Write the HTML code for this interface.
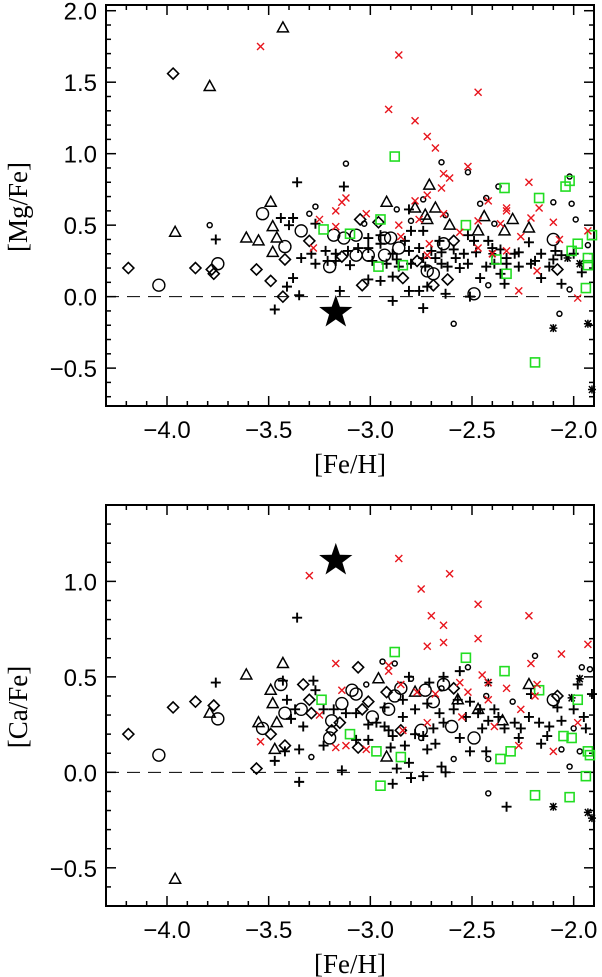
<!DOCTYPE html>
<html><head><meta charset="utf-8"><style>
html,body{margin:0;padding:0;background:#fff;}
svg{display:block;}
text{font-family:"Liberation Sans",sans-serif;fill:#000;}
.ttl{font-family:"Liberation Serif",serif;font-size:27px;}
</style></head><body>
<svg id="chart" width="602" height="977" viewBox="0 0 602 977" xmlns="http://www.w3.org/2000/svg"></svg>
<script>
// ---- shared x axis ----
const xTicks = [-4.0, -3.5, -3.0, -2.5, -2.0];
const xTickLabels = ["\u22124.0", "\u22123.5", "\u22123.0", "\u22122.5", "\u22122.0"];
// ---- top panel [Mg/Fe] ----
const mgYTicks = [-0.5, 0.0, 0.5, 1.0, 1.5, 2.0];
const mgYTickLabels = ["\u22120.5", "0.0", "0.5", "1.0", "1.5", "2.0"];
const mgStar = [[-3.17, -0.11]];
const mgRedX = [[-3.54,1.75],[-2.86,1.69],[-2.91,1.31],[-2.47,1.43],[-2.78,1.23],[-2.72,1.12],[-2.68,1.04],[-2.52,0.91],[-2.64,0.86],[-2.61,0.83],[-2.65,0.76],[-2.22,0.80],[-2.72,0.71],[-2.78,0.67],[-2.42,0.67],[-3.12,0.69],[-3.14,0.66],[-3.17,0.60],[-2.33,0.62],[-2.17,0.62],[-3.25,0.54],[-3.02,0.58],[-3.17,0.49],[-2.86,0.50],[-2.76,0.54],[-2.64,0.58],[-2.47,0.53],[-2.33,0.60],[-2.21,0.55],[-2.10,0.52],[-2.36,0.51],[-2.56,0.45],[-2.26,0.42],[-2.07,0.40],[-1.93,0.46],[-2.71,0.37],[-2.47,0.34],[-2.40,0.30],[-2.33,0.32],[-2.72,0.29],[-3.28,0.34],[-2.18,0.18],[-2.27,0.04],[-1.98,-0.01],[-2.85,0.42]];
const mgGreenSq = [[-2.88,0.98],[-2.34,0.76],[-2.17,0.69],[-2.04,0.77],[-2.02,0.81],[-2.53,0.50],[-2.95,0.54],[-3.23,0.47],[-3.10,0.44],[-2.96,0.21],[-2.84,0.22],[-2.38,0.26],[-2.33,0.16],[-2.01,0.32],[-1.98,0.37],[-1.91,0.43],[-1.93,0.27],[-1.93,0.22],[-1.94,0.06],[-2.19,-0.46]];
const mgTriangle = [[-3.43,1.88],[-3.79,1.47],[-3.96,0.45],[-3.61,0.41],[-3.55,0.39],[-3.49,0.66],[-3.48,0.49],[-3.46,0.41],[-3.48,0.31],[-2.71,0.78],[-2.92,0.66],[-2.78,0.62],[-2.73,0.57],[-2.68,0.62],[-2.72,0.54],[-2.61,0.50],[-2.44,0.56],[-2.47,0.46],[-2.30,0.54],[-2.34,0.46],[-2.22,0.48]];
const mgDiamond = [[-3.97,1.56],[-4.19,0.20],[-3.86,0.20],[-3.78,0.19],[-3.77,0.16],[-3.56,0.19],[-3.49,0.11],[-3.43,0.00],[-3.42,0.26],[-3.30,0.39],[-3.14,0.28],[-3.05,0.54],[-3.04,0.08],[-2.96,0.52],[-2.84,0.13],[-2.69,0.08],[-2.62,0.12],[-2.59,0.39],[-2.08,0.19],[-2.77,0.25]];
const mgBigCircle = [[-4.04,0.08],[-3.75,0.23],[-3.53,0.58],[-3.42,0.35],[-3.34,0.46],[-3.20,0.21],[-3.18,0.43],[-3.13,0.41],[-3.07,0.43],[-3.07,0.29],[-3.01,0.29],[-2.93,0.41],[-2.93,0.29],[-2.86,0.34],[-2.90,0.41],[-2.69,0.16],[-2.64,0.37],[-2.49,0.02],[-2.10,0.40],[-2.72,0.18]];
const mgSmallCircle = [[-3.12,0.93],[-2.65,0.94],[-2.52,0.87],[-2.02,0.84],[-2.10,0.66],[-2.01,0.65],[-1.99,0.54],[-3.79,0.50],[-3.27,0.63],[-3.30,0.58],[-2.80,0.53],[-2.87,0.61],[-2.74,0.68],[-2.63,0.57],[-2.46,0.65],[-2.39,0.51],[-2.37,0.77],[-2.42,0.08],[-2.59,-0.19],[-2.07,-0.12],[-2.02,0.05],[-1.93,0.36],[-3.03,0.51],[-2.43,0.69]];
const mgAsterisk = [[-2.10,-0.22],[-1.93,-0.19],[-1.91,-0.65],[-2.40,0.30],[-1.97,0.23],[-2.03,0.27]];
const mgPlus = [[-3.36,0.80],[-3.13,0.77],[-3.76,0.40],[-3.44,0.55],[-3.38,0.55],[-3.40,0.50],[-3.27,0.51],[-3.38,0.13],[-3.41,0.07],[-3.35,0.01],[-3.47,-0.09],[-3.15,0.04],[-2.74,-0.08],[-2.89,-0.03],[-2.63,0.02],[-2.51,0.00],[-2.81,0.04],[-2.76,0.04],[-2.72,0.07],[-3.01,0.12],[-2.95,0.11],[-2.89,0.14],[-2.06,0.09],[-2.16,0.13],[-2.34,0.09],[-2.46,0.13],[-2.81,0.61],[-2.80,0.46],[-2.74,0.46],[-2.52,0.43],[-2.49,0.39],[-2.42,0.39],[-2.36,0.33],[-2.22,0.38],[-2.29,0.30],[-2.21,0.23],[-2.16,0.30],[-2.10,0.26],[-2.06,0.29],[-2.12,0.21],[-2.27,0.21],[-2.33,0.23],[-2.43,0.21],[-2.52,0.23],[-2.58,0.27],[-2.65,0.23],[-2.73,0.21],[-2.80,0.23],[-2.86,0.21],[-2.92,0.23],[-2.99,0.25],[-3.06,0.34],[-3.11,0.32],[-3.17,0.30],[-3.21,0.25],[-3.27,0.23],[-3.29,0.30],[-3.34,0.27],[-3.22,0.32],[-3.10,0.22],[-3.17,0.25],[-3.01,0.34],[-2.95,0.37],[-2.89,0.30],[-2.81,0.32],[-2.76,0.34],[-2.70,0.32],[-2.65,0.31],[-2.59,0.33],[-2.54,0.30],[-2.48,0.31],[-2.40,0.34],[-2.33,0.27],[-2.27,0.31],[-2.19,0.25],[-2.09,0.32],[-2.00,0.30],[-1.96,0.17],[-2.95,0.43],[-3.01,0.41],[-2.74,0.27],[-2.87,0.26],[-2.62,0.21],[-2.56,0.20],[-2.68,0.27],[-2.83,0.39],[-2.66,0.39],[-2.36,0.16],[-2.39,0.23]];
// ---- bottom panel [Ca/Fe] ----
const caYTicks = [-0.5, 0.0, 0.5, 1.0];
const caYTickLabels = ["\u22120.5", "0.0", "0.5", "1.0"];
const caStar = [[-3.17, 1.11]];
const caRedX = [[-3.30,1.03],[-2.86,1.12],[-2.61,1.04],[-2.75,0.96],[-2.47,0.88],[-2.70,0.82],[-2.64,0.77],[-2.22,0.82],[-2.47,0.70],[-2.72,0.66],[-2.64,0.68],[-2.06,0.62],[-1.93,0.67],[-3.17,0.57],[-2.91,0.56],[-2.91,0.53],[-2.21,0.57],[-2.45,0.51],[-2.85,0.46],[-2.42,0.47],[-2.56,0.47],[-3.14,0.43],[-2.52,0.42],[-2.33,0.44],[-2.18,0.46],[-2.77,0.42],[-2.68,0.41],[-2.72,0.26],[-2.42,0.38],[-2.26,0.33],[-2.19,0.40],[-1.98,0.26],[-3.54,0.16],[-3.25,0.30],[-3.17,0.13],[-3.12,0.14],[-3.02,0.12],[-2.39,0.24],[-2.27,0.14],[-2.10,0.11],[-2.55,0.29],[-2.84,0.22]];
const caGreenSq = [[-2.88,0.63],[-2.53,0.60],[-2.34,0.53],[-2.17,0.43],[-1.98,0.38],[-3.24,0.38],[-3.10,0.20],[-2.97,0.11],[-2.85,0.08],[-2.95,-0.07],[-2.31,0.11],[-2.36,0.07],[-2.05,0.19],[-2.01,0.18],[-1.93,0.11],[-1.92,0.09],[-1.94,-0.02],[-2.19,-0.12],[-2.02,-0.13]];
const caTriangle = [[-3.61,0.51],[-3.43,0.57],[-3.49,0.43],[-3.48,0.36],[-3.46,0.26],[-3.55,0.26],[-3.47,0.12],[-3.79,0.31],[-3.96,-0.56],[-2.96,0.49],[-2.78,0.42],[-2.92,0.08],[-2.57,0.38],[-2.47,0.33],[-2.22,0.46],[-2.35,0.27]];
const caDiamond = [[-4.19,0.20],[-3.97,0.34],[-3.86,0.37],[-3.77,0.35],[-3.56,0.02],[-3.49,0.20],[-3.42,0.14],[-3.33,0.46],[-3.30,0.38],[-3.29,0.31],[-3.19,0.22],[-3.15,0.26],[-3.06,0.55],[-3.04,0.33],[-3.01,0.37],[-2.92,0.42],[-2.85,0.22],[-2.59,0.44],[-2.08,0.40],[-3.06,0.13]];
const caBigCircle = [[-4.04,0.09],[-3.75,0.28],[-3.44,0.46],[-3.42,0.31],[-3.34,0.33],[-3.53,0.23],[-3.20,0.18],[-3.19,0.27],[-3.14,0.36],[-3.09,0.43],[-3.07,0.41],[-2.99,0.29],[-2.91,0.33],[-2.88,0.40],[-2.85,0.44],[-2.73,0.43],[-2.64,0.46],[-2.69,0.37],[-2.49,0.18],[-2.10,0.38],[-2.60,0.24],[-2.75,0.22]];
const caSmallCircle = [[-2.19,0.61],[-1.96,0.55],[-1.92,0.54],[-2.94,0.58],[-2.88,0.57],[-2.52,0.55],[-3.29,0.08],[-2.59,0.07],[-2.42,0.07],[-2.42,-0.11],[-2.02,0.03],[-2.06,0.12],[-1.97,0.11],[-2.80,0.49],[-3.02,0.46],[-2.65,0.44],[-2.43,0.40],[-2.00,0.23],[-2.30,0.37],[-2.75,0.18]];
const caAsterisk = [[-1.97,0.49],[-2.10,-0.18],[-1.93,-0.21],[-1.91,-0.24],[-2.42,0.47],[-2.01,0.39]];
const caPlus = [[-3.36,0.81],[-3.76,0.47],[-3.28,0.48],[-3.43,0.48],[-3.41,0.38],[-3.37,0.33],[-3.27,0.43],[-3.42,0.11],[-3.35,0.12],[-3.47,0.06],[-3.35,-0.05],[-3.14,0.01],[-3.23,0.14],[-2.89,-0.06],[-2.87,0.02],[-2.81,0.05],[-2.80,-0.03],[-2.74,-0.02],[-2.65,0.03],[-2.63,0.00],[-2.33,-0.18],[-2.51,0.11],[-2.43,0.11],[-2.72,0.12],[-2.83,0.14],[-2.90,0.13],[-2.64,0.50],[-2.56,0.53],[-2.71,0.47],[-2.81,0.50],[-1.98,0.46],[-1.91,0.41],[-2.21,0.41],[-2.16,0.15],[-2.13,0.19],[-2.27,0.18],[-2.22,0.29],[-2.37,0.29],[-2.45,0.23],[-2.56,0.18],[-2.68,0.15],[-2.78,0.20],[-2.91,0.22],[-3.01,0.25],[-3.07,0.17],[-3.23,0.33],[-3.18,0.33],[-3.12,0.31],[-3.39,0.28],[-3.33,0.24],[-3.07,0.31],[-2.97,0.26],[-2.93,0.24],[-2.84,0.29],[-2.78,0.33],[-2.72,0.36],[-2.66,0.31],[-2.59,0.33],[-2.53,0.29],[-2.47,0.31],[-2.42,0.27],[-2.34,0.23],[-2.29,0.26],[-2.26,0.23],[-2.17,0.26],[-2.12,0.24],[-2.06,0.27],[-2.00,0.33],[-1.95,0.29],[-1.94,0.23],[-2.08,0.34],[-2.57,0.38],[-2.51,0.37],[-2.84,0.38],[-2.93,0.34],[-2.64,0.26],[-2.69,0.23],[-2.39,0.33],[-2.46,0.33],[-2.74,0.19],[-2.89,0.19],[-3.01,0.17]];

const NS = "http://www.w3.org/2000/svg";
const svg = document.getElementById("chart");
const PX0 = 106, PX1 = 594, XMIN = -4.3, XMAX = -1.9;
function xs(v){ return PX0 + (v - XMIN) / (XMAX - XMIN) * (PX1 - PX0); }
function mk(tag, attrs, parent){ const e = document.createElementNS(NS, tag); for (const k in attrs) e.setAttribute(k, attrs[k]); (parent||svg).appendChild(e); return e; }

function drawPanel(cfg){
  const g = mk("g", {});
  
  
  const ys = v => cfg.top + (cfg.ymax - v) / (cfg.ymax - cfg.ymin) * (cfg.bot - cfg.top);
  const zl = mk("line", {x1:PX0, x2:PX1, y1:ys(0), y2:ys(0), stroke:"#000", "stroke-width":1, "stroke-dasharray":"13 8"}, g);
  
  
  const tg = mk("g", {stroke:"#000", "stroke-width":1.5}, g);
  for (let i = Math.ceil(XMIN*10); i <= Math.floor(XMAX*10); i++){
    const v = i/10, L = (i % 5 === 0) ? 10 : 5, x = xs(v);
    mk("line", {x1:x, x2:x, y1:cfg.bot, y2:cfg.bot-L}, tg);
    mk("line", {x1:x, x2:x, y1:cfg.top, y2:cfg.top+L}, tg);
  }
  for (let i = Math.ceil(cfg.ymin*10); i <= Math.floor(cfg.ymax*10); i++){
    const v = i/10, L = (i % 5 === 0) ? 10 : 5, y = ys(v);
    mk("line", {x1:PX0, x2:PX0+L, y1:y, y2:y}, tg);
    mk("line", {x1:PX1, x2:PX1-L, y1:y, y2:y}, tg);
  }
  const fr = mk("rect", {x:PX0, y:cfg.top, width:PX1-PX0, height:cfg.bot-cfg.top, fill:"none", stroke:"#000", "stroke-width":2}, g);
  
  
  xTicks.forEach((v,i) => {
    const t = mk("text", {x:xs(v), y:cfg.bot+32, "text-anchor":"middle", "font-size":24}, g);
    t.textContent = xTickLabels[i];
    
    
  });
  cfg.yTicks.forEach((v,i) => {
    const t = mk("text", {x:97, y:ys(v)+9, "text-anchor":"end", "font-size":24}, g);
    t.textContent = cfg.yLabels[i];
    
    
  });
  const xt = mk("text", {x:350, y:cfg.bot+67, "text-anchor":"middle", class:"ttl"}, g);
  xt.textContent = "[Fe/H]";
  
  
  const yt = mk("text", {x:0, y:0, "text-anchor":"middle", class:"ttl", transform:"translate(27,"+cfg.ytitleY+") rotate(-90)"}, g);
  yt.textContent = cfg.ytitle;
  
  
  const s = cfg.series;
  const add = (arr, name, fn) => arr.forEach(p => {
    const e = fn(xs(p[0]), ys(p[1]));
    
    
  });
  add(s.plus, 'plus-marker', (x,y) => mk("path", {d:`M${x-5},${y}H${x+5}M${x},${y-5}V${y+5}`, stroke:"#000", "stroke-width":1.9, fill:"none"}, g));
  add(s.small, 'small-circle-marker', (x,y) => mk("circle", {cx:x, cy:y, r:2.5, stroke:"#000", "stroke-width":1.5, fill:"none"}, g));
  add(s.big, 'big-circle-marker', (x,y) => mk("circle", {cx:x, cy:y, r:6, stroke:"#000", "stroke-width":1.4, fill:"none"}, g));
  add(s.dia, 'diamond-marker', (x,y) => mk("path", {d:`M${x},${y-5.5}L${x+5.5},${y}L${x},${y+5.5}L${x-5.5},${y}Z`, stroke:"#000", "stroke-width":1.6, fill:"none"}, g));
  add(s.tri, 'triangle-marker', (x,y) => mk("path", {d:`M${x},${y-6}L${x+5.5},${y+4}L${x-5.5},${y+4}Z`, stroke:"#000", "stroke-width":1.5, fill:"none"}, g));
  add(s.ast, 'asterisk-marker', (x,y) => mk("path", {d:`M${x-4},${y}H${x+4}M${x-3},${y-3.5}L${x+3},${y+3.5}M${x+3},${y-3.5}L${x-3},${y+3.5}M${x},${y-4}V${y+4}`, stroke:"#000", "stroke-width":1.5, fill:"none"}, g));
  add(s.sq, 'green-square-marker', (x,y) => mk("rect", {x:x-4.5, y:y-4.5, width:9, height:9, stroke:"#22dd22", "stroke-width":1.6, fill:"none"}, g));
  add(s.red, 'red-x-marker', (x,y) => mk("path", {d:`M${x-3.5},${y-3.5}L${x+3.5},${y+3.5}M${x+3.5},${y-3.5}L${x-3.5},${y+3.5}`, stroke:"#e8141c", "stroke-width":1.4, fill:"none"}, g));
  add(s.star, 'star-marker', (x,y) => {
    let d = "";
    for (let k = 0; k < 10; k++){
      const r = k % 2 ? 7 : 17.5, a = -Math.PI/2 + k*Math.PI/5;
      d += (k ? "L" : "M") + (x + r*Math.cos(a)).toFixed(1) + "," + (y + r*Math.sin(a)).toFixed(1);
    }
    return mk("path", {d:d+"Z", fill:"#000"}, g);
  });
}

drawPanel({name:"mg-fe-panel", top:5, bot:406, ymin:-0.765, ymax:2.04, yTicks:mgYTicks, yLabels:mgYTickLabels, ytitle:"[Mg/Fe]", ytitleY:207,
  series:{plus:mgPlus, small:mgSmallCircle, big:mgBigCircle, dia:mgDiamond, tri:mgTriangle, ast:mgAsterisk, sq:mgGreenSq, red:mgRedX, star:mgStar}});
drawPanel({name:"ca-fe-panel", top:505, bot:906, ymin:-0.70, ymax:1.40, yTicks:caYTicks, yLabels:caYTickLabels, ytitle:"[Ca/Fe]", ytitleY:707,
  series:{plus:caPlus, small:caSmallCircle, big:caBigCircle, dia:caDiamond, tri:caTriangle, ast:caAsterisk, sq:caGreenSq, red:caRedX, star:caStar}});
</script>
</body></html>
